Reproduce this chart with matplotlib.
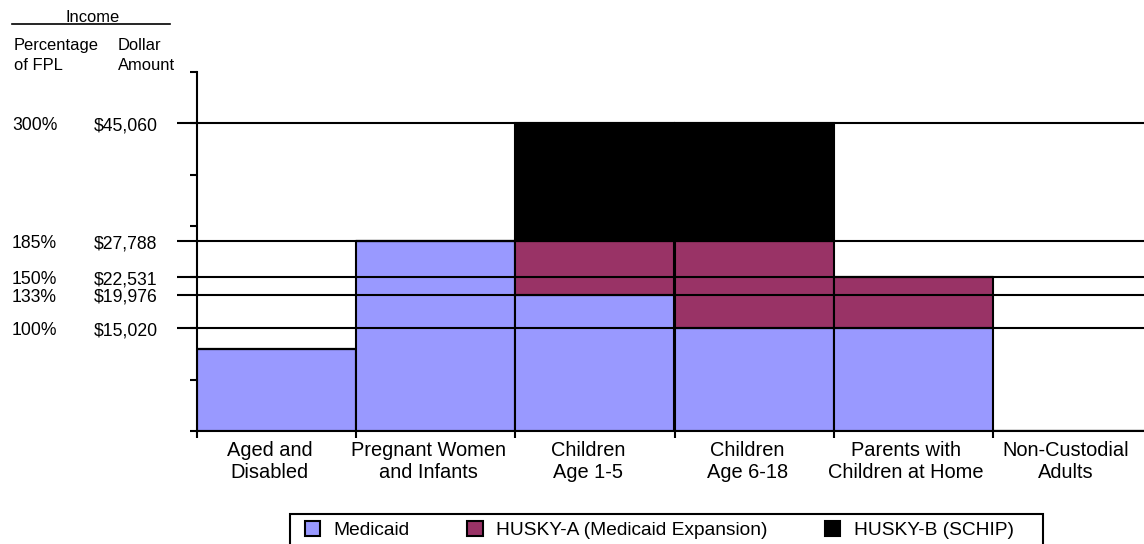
import matplotlib
matplotlib.use("Agg")
import matplotlib.pyplot as plt
import matplotlib.transforms as mtransforms
from matplotlib.patches import Patch, Rectangle

plt.rcParams['font.family'] = ['Liberation Sans', 'DejaVu Sans']

categories = ["Aged and\nDisabled", "Pregnant Women\nand Infants", "Children\nAge 1-5",
              "Children\nAge 6-18", "Parents with\nChildren at Home", "Non-Custodial\nAdults"]
medicaid = [80, 185, 133, 100, 100, 0]
husky_a = [0, 0, 52, 85, 50, 0]
husky_b = [0, 0, 115, 115, 0, 0]
series_names = ["Medicaid", "HUSKY-A (Medicaid Expansion)", "HUSKY-B (SCHIP)"]
colors = ["#9999FF", "#993366", "#000000"]

fpl_levels = [300, 185, 150, 133, 100]
fpl_labels = ["300%", "185%", "150%", "133%", "100%"]
dollar_labels = ["$45,060", "$27,788", "$22,531", "$19,976", "$15,020"]

W, H = 1144, 544
fig = plt.figure(figsize=(W / 100, H / 100), dpi=100)

def fx(px):
    return px / W

def fy(py):
    return 1 - py / H

ax_left, ax_right, ax_top, ax_bot = 197, 1152, 72, 431
ax = fig.add_axes([fx(ax_left), fy(ax_bot), (ax_right - ax_left) / W, (ax_bot - ax_top) / H])

x = list(range(len(categories)))
lw = 1.5
b1 = medicaid
b2 = [m + a for m, a in zip(medicaid, husky_a)]
ax.bar(x, medicaid, width=1, align='edge', color=colors[0], edgecolor='black', linewidth=lw, zorder=2)
ax.bar(x, husky_a, bottom=b1, width=1, align='edge', color=colors[1], edgecolor='black', linewidth=lw, zorder=2)
ax.bar(x, husky_b, bottom=b2, width=1, align='edge', color=colors[2], edgecolor='black', linewidth=lw, zorder=2)

ax.set_xlim(0, len(categories))
ax.set_ylim(0, 350)

# reference lines
blend = mtransforms.blended_transform_factory(ax.transAxes, ax.transData)
x0 = (177 - ax_left) / (ax_right - ax_left)
for lv in fpl_levels:
    ax.plot([x0, 1.0], [lv, lv], color='black', linewidth=1.5, transform=blend,
            clip_on=False, zorder=3, solid_capstyle='butt')

# left labels
blend_fig = mtransforms.blended_transform_factory(fig.transFigure, ax.transData)
off = mtransforms.ScaledTranslation(0, -2.5 / 100, fig.dpi_scale_trans)
for lv, p, d in zip(fpl_levels, fpl_labels, dollar_labels):
    ax.text(fx(12), lv, p, transform=blend_fig + off, ha='left', va='center', fontsize=12.7)
    ax.text(fx(94), lv, d, transform=blend_fig + off, ha='left', va='center', fontsize=12.7)

# headers
fig.text(fx(93), fy(21.7), "Income", ha='center', va='baseline', fontsize=11.9)
fig.add_artist(plt.Line2D([fx(12), fx(170)], [fy(24), fy(24)], color='black', linewidth=1.2,
                          transform=fig.transFigure))
fig.text(fx(14), fy(50), "Percentage", ha='left', va='baseline', fontsize=11.9)
fig.text(fx(14), fy(70), "of FPL", ha='left', va='baseline', fontsize=11.9)
fig.text(fx(118), fy(50), "Dollar", ha='left', va='baseline', fontsize=11.9)
fig.text(fx(118), fy(70), "Amount", ha='left', va='baseline', fontsize=11.9)

# axes styling
for s in ['top', 'right']:
    ax.spines[s].set_visible(False)
for s in ['left', 'bottom']:
    ax.spines[s].set_linewidth(1.5)
    ax.spines[s].set_zorder(4)
ax.set_yticks(range(0, 351, 50))
ax.set_yticklabels([])
ax.set_xticks(range(0, len(categories) + 1))
ax.set_xticklabels([])
ax.tick_params(axis='both', direction='out', length=5, width=1.5)

# category labels
xlab_t = mtransforms.blended_transform_factory(ax.transData, fig.transFigure)
shift = mtransforms.ScaledTranslation(-7 / 100, 0, fig.dpi_scale_trans)
for i, c in enumerate(categories):
    ax.text(i + 0.5, fy(441), c, transform=xlab_t + shift, ha='center', va='top',
            fontsize=14.4, linespacing=1.17, clip_on=False)

# legend
handles = [Patch(facecolor=c, edgecolor='black', linewidth=1.5) for c in colors]
leg = fig.legend(handles, series_names, ncol=3, loc='center left',
                 bbox_to_anchor=(fx(305), fy(530)), frameon=False, fontsize=13.8,
                 handlelength=0.8, handleheight=0.8, handletextpad=0.7,
                 columnspacing=3.0, borderpad=0, borderaxespad=0)
fig.add_artist(Rectangle((fx(290), fy(560)), fx(1043) - fx(290), fy(514) - fy(560),
                         fill=False, edgecolor='black', linewidth=1.5,
                         transform=fig.transFigure, clip_on=False))

fig.savefig("out.png", dpi=100)
